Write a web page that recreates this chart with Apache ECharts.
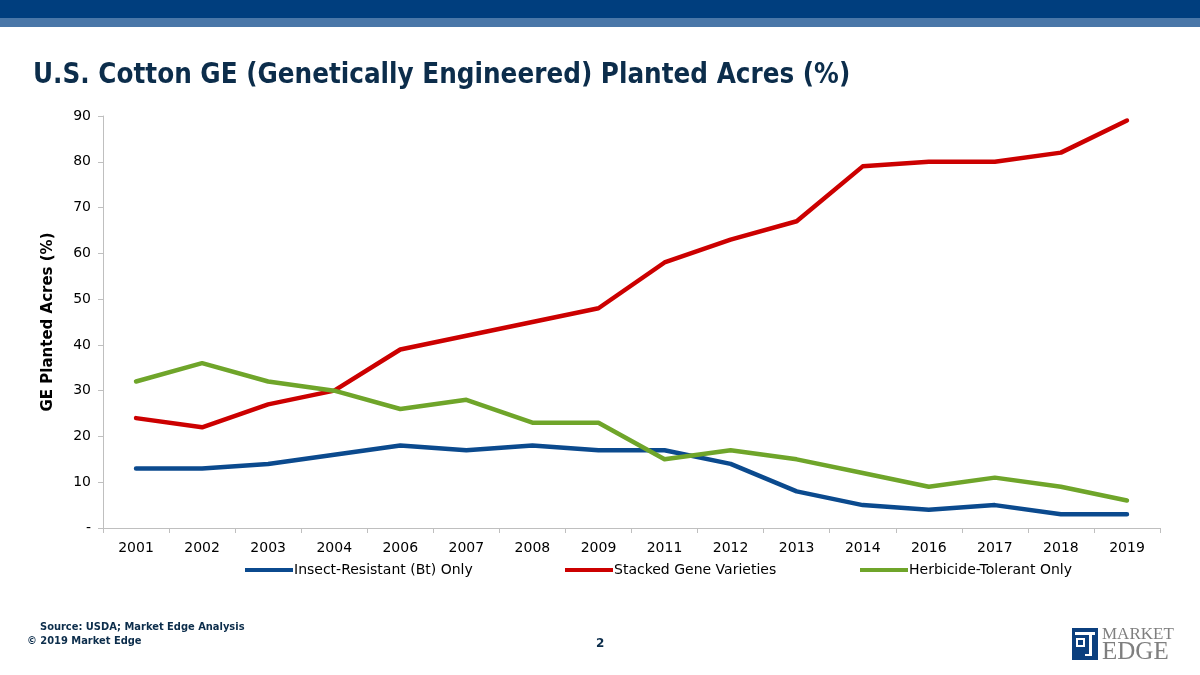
<!DOCTYPE html>
<html>
<head>
<meta charset="utf-8">
<script src="https://cdn.jsdelivr.net/npm/echarts@6/dist/echarts.min.js"></script>
<style>
  html, body { margin: 0; padding: 0; background: #fff; }
  #chart { width: 1200px; height: 675px; }
</style>
</head>
<body>
<div id="chart"></div>
<script>
const years = ['2001', '2002', '2003', '2004', '2006', '2007', '2008', '2009',
  '2011', '2012', '2013', '2014', '2016', '2017', '2018', '2019']

const insectResistant = [13, 13, 14, 16, 18, 17, 18, 17, 17, 14, 8, 5, 4, 5, 3, 3]
const stackedGene = [24, 22, 27, 30, 39, 42, 45, 48, 58, 63, 67, 79, 80, 80, 82, 89]
const herbicideTolerant = [32, 36, 32, 30, 26, 28, 23, 23, 15, 17, 15, 12, 9, 11, 9, 6]

const seriesNames = ['Insect-Resistant (Bt) Only', 'Stacked Gene Varieties', 'Herbicide-Tolerant Only']
const seriesColors = ['#0B4A8E', '#CC0000', '#6FA52A']

const chart = echarts.init(document.getElementById('chart'))

const font = 'Tahoma, "DejaVu Sans", sans-serif'

const legendAt = (i, left) => ({
  data: [seriesNames[i]],
  left: left,
  top: 558,
  itemWidth: 48,
  itemHeight: 4,
  itemGap: 0,
  icon: 'rect',
  textStyle: { fontFamily: font, fontSize: 14, color: '#000', padding: [0, 0, 0, -4] }
})

chart.setOption({
  animation: false,
  graphic: [
    { type: 'rect', shape: { x: 0, y: 0, width: 1200, height: 18 }, style: { fill: '#003E7E' } },
    { type: 'rect', shape: { x: 0, y: 18, width: 1200, height: 9 }, style: { fill: '#4A77A8' } },
    {
      type: 'text', left: 33, top: 62,
      style: {
        text: 'U.S. Cotton GE (Genetically Engineered) Planted Acres (%)',
        font: 'bold 27.5px "DejaVu Sans Condensed", Tahoma, sans-serif', fill: '#0C2D4B'
      }
    },
    {
      type: 'text', left: 40, top: 622,
      style: { text: 'Source: USDA; Market Edge Analysis', font: 'bold 11px "DejaVu Sans Condensed", sans-serif', fill: '#0C2D4B' }
    },
    {
      type: 'text', left: 27, top: 636,
      style: { text: '© 2019 Market Edge', font: 'bold 11px "DejaVu Sans Condensed", sans-serif', fill: '#0C2D4B' }
    },
    {
      type: 'text', left: 596, top: 638,
      style: { text: '2', font: 'bold 12px "DejaVu Sans", sans-serif', fill: '#0C2D4B' }
    },
    // logo
    { type: 'rect', shape: { x: 1072, y: 628, width: 26, height: 32 }, style: { fill: '#0B3F7E' } },
    { type: 'rect', shape: { x: 1075, y: 632, width: 20, height: 3 }, style: { fill: '#fff' } },
    { type: 'rect', shape: { x: 1076, y: 638, width: 9, height: 2 }, style: { fill: '#fff' } },
    { type: 'rect', shape: { x: 1076, y: 638, width: 2, height: 9 }, style: { fill: '#fff' } },
    { type: 'rect', shape: { x: 1083, y: 638, width: 2, height: 9 }, style: { fill: '#fff' } },
    { type: 'rect', shape: { x: 1076, y: 645, width: 9, height: 2 }, style: { fill: '#fff' } },
    { type: 'rect', shape: { x: 1089, y: 634, width: 3, height: 22 }, style: { fill: '#fff' } },
    { type: 'rect', shape: { x: 1085, y: 654, width: 7, height: 2 }, style: { fill: '#fff' } },
    {
      type: 'text', left: 1102, top: 626,
      style: { text: 'MARKET', font: '17px "Liberation Serif", serif', fill: '#7F7F7F' }
    },
    {
      type: 'text', left: 1102, top: 640,
      style: { text: 'EDGE', font: '25px "Liberation Serif", serif', fill: '#7F7F7F' }
    }
  ],
  legend: [legendAt(0, 240), legendAt(1, 560), legendAt(2, 855)],
  grid: { left: 103, right: 40, top: 116, bottom: 147 },
  xAxis: {
    type: 'category',
    data: years,
    boundaryGap: true,
    axisLine: { lineStyle: { color: '#BFBFBF', width: 1 } },
    axisTick: { show: true, length: 5, lineStyle: { color: '#BFBFBF' } },
    axisLabel: { fontFamily: font, fontSize: 14, color: '#000', margin: 13 }
  },
  yAxis: {
    type: 'value',
    min: 0,
    max: 90,
    interval: 10,
    name: 'GE Planted Acres (%)',
    nameLocation: 'middle',
    nameRotate: 90,
    nameGap: 47,
    nameTextStyle: { fontFamily: font, fontSize: 15, fontWeight: 'bold', color: '#000' },
    axisLine: { show: true, lineStyle: { color: '#BFBFBF', width: 1 } },
    axisTick: { show: true, length: 5, lineStyle: { color: '#BFBFBF' } },
    splitLine: { show: false },
    axisLabel: {
      fontFamily: font, fontSize: 14, color: '#000', margin: 12,
      formatter: v => (v === 0 ? '-' : String(v))
    }
  },
  series: [
    { name: seriesNames[0], data: insectResistant },
    { name: seriesNames[1], data: stackedGene },
    { name: seriesNames[2], data: herbicideTolerant }
  ].map((s, i) => ({
    ...s,
    type: 'line',
    showSymbol: false,
    symbol: 'none',
    color: seriesColors[i],
    lineStyle: { width: 4.5, color: seriesColors[i], join: 'round', cap: 'round' }
  }))
})
</script>
</body>
</html>
